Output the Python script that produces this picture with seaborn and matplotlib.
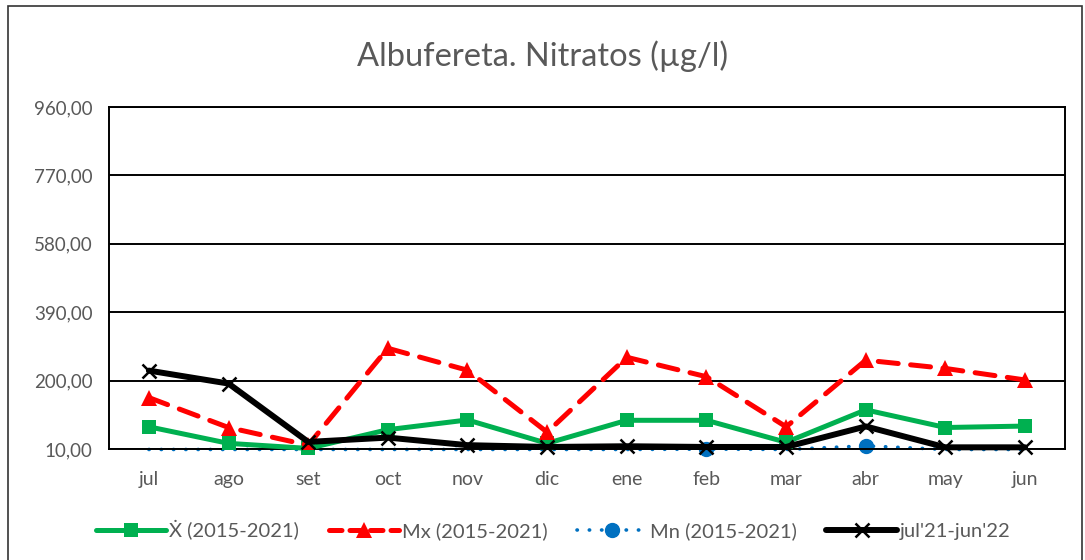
import matplotlib
matplotlib.use("Agg")
import matplotlib.pyplot as plt
import seaborn as sns
import numpy as np
from matplotlib.patches import Rectangle
from matplotlib.lines import Line2D

sns.set_theme(style="white")
plt.rcParams['font.family'] = ['Lato', 'DejaVu Sans']

months = ["jul", "ago", "set", "oct", "nov", "dic", "ene", "feb", "mar", "abr", "may", "jun"]
media = [72, 26, 12, 64, 91, 26, 90, 90, 29, 119, 70, 74]
maximo = [153, 70, 21, 290, 229, 57, 265, 211, 72, 257, 234, 202]
minimo = [9, 9, 9, 9, 9, 9, 9, 10, 9, 19, 9, 9]
actual = [228, 192, 30, 42, 21, 16, 18, 16, 16, 73, 15, 15]
yticks = [10, 200, 390, 580, 770, 960]
labels = ["Ẋ (2015-2021)", "Mx (2015-2021)", "Mn (2015-2021)", "jul'21-jun'22"]

fig = plt.figure(figsize=(10.85, 5.6), dpi=100)
ax = fig.add_axes([0.1005, 0.198, 0.881, 0.611])

text_color = "#595959"
green, red, blue, black = "#00B050", "#FF0000", "#0070C0", "#000000"

x = np.arange(len(months))
sns.lineplot(x=x, y=media, ax=ax, color=green, lw=3.6, marker="s", markersize=10,
             markeredgewidth=0, sort=False, clip_on=False, zorder=3)
sns.lineplot(x=x, y=maximo, ax=ax, color=red, lw=3.6, marker="^", markersize=11,
             markeredgewidth=0, sort=False, zorder=3)
ax.lines[-1].set_dashes([4, 2.5])
ax.lines[-1].set_dash_capstyle("round")
sns.lineplot(x=x, y=minimo, ax=ax, color=blue, lw=2.6, sort=False, zorder=2, clip_on=False)
ax.lines[-1].set_dashes([0.1, 3.3])
ax.lines[-1].set_dash_capstyle("round")
mn = np.array(minimo)
vis = mn >= yticks[0]
ax.plot(x[vis], mn[vis], ls="none", marker="o", markersize=10, color=blue, clip_on=False, zorder=2)
sns.lineplot(x=x, y=actual, ax=ax, color=black, lw=4.3, marker="x", markersize=10,
             markeredgewidth=1.8, markeredgecolor=black, sort=False, clip_on=False, zorder=4)

ax.set_xlim(-0.5, len(months) - 0.5)
ax.set_ylim(yticks[0], yticks[-1])
ax.set_yticks(yticks)
ax.set_yticklabels([f"{v:.2f}".replace(".", ",") for v in yticks])
ax.set_xticks(x)
ax.set_xticklabels(months)
ax.set_xticks(np.arange(-0.5, len(months), 1), minor=True)
ax.tick_params(axis="x", which="major", length=0, pad=16, labelsize=14, labelcolor=text_color)
ax.tick_params(axis="x", which="minor", length=5, direction="in", width=1, color="#333333")
ax.tick_params(axis="y", length=0, pad=12, labelsize=13.5, labelcolor=text_color)
ax.yaxis.grid(True, color="black", lw=1.4)
ax.set_axisbelow(True)
for s in ax.spines.values():
    s.set_color("black")
    s.set_linewidth(1.4)
ax.set_xlabel("")
ax.set_ylabel("")

fig.text(0.5, 0.9, "Albufereta. Nitratos (µg/l)", ha="center", va="center",
         fontsize=23.5, color=text_color)

red_h = Line2D([], [], color=red, lw=3.6, marker="^", markersize=11, markeredgewidth=0)
red_h.set_dashes([2.5, 1.6])
red_h.set_dash_capstyle("round")
blue_h = Line2D([], [], color=blue, lw=2.6, marker="o", markersize=10)
blue_h.set_dashes([0.1, 3.3])
blue_h.set_dash_capstyle("round")
handles = [
    Line2D([], [], color=green, lw=3.6, marker="s", markersize=10, markeredgewidth=0),
    red_h,
    blue_h,
    Line2D([], [], color=black, lw=4.3, marker="x", markersize=10, markeredgewidth=1.8),
]
fig.legend(handles, labels, loc="center", bbox_to_anchor=(0.51, 0.053), ncol=4, frameon=False,
           fontsize=14.5, labelcolor=text_color, handlelength=3.5, columnspacing=1.45,
           handletextpad=0.15)

fig.patches.append(Rectangle((8 / 1085, -0.01), 1074 / 1085, 1.0, transform=fig.transFigure,
                             fill=False, edgecolor="#333333", lw=1.2))

fig.savefig("out.png", dpi=100)
